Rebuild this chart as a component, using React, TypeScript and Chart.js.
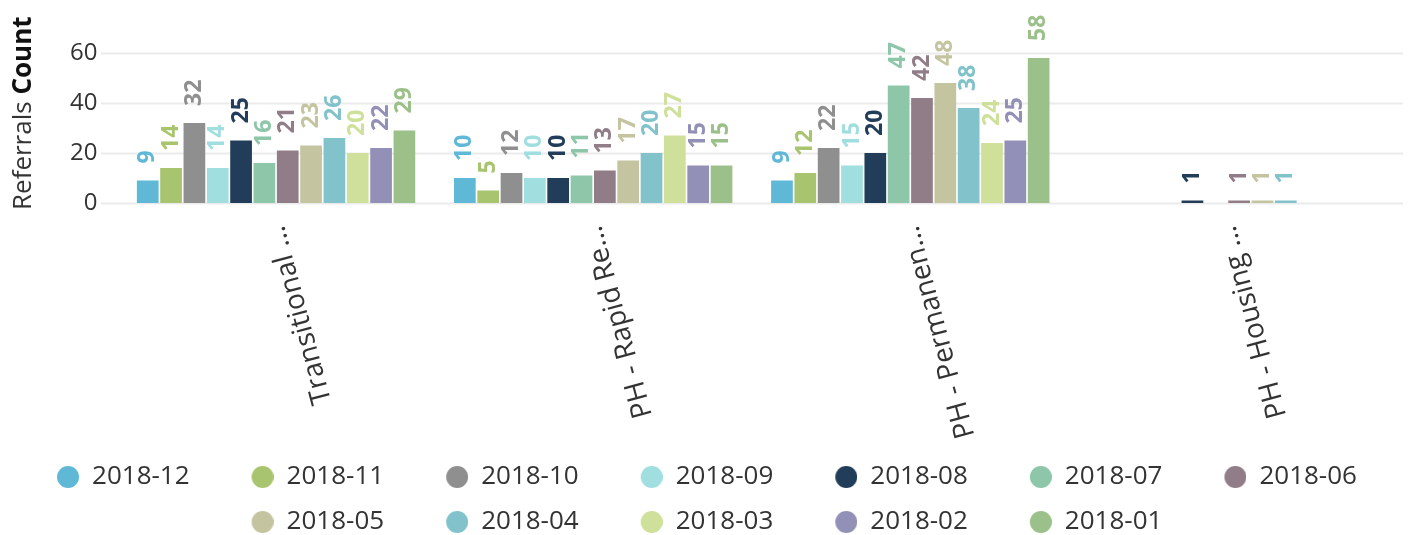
import React, { useEffect, useRef } from "react";
import { Chart, registerables } from "chart.js";

Chart.register(...registerables);

const categories = ["Transitional ...", "PH - Rapid Re...", "PH - Permanen...", "PH - Housing ..."];
const seriesNames = [
  "2018-12", "2018-11", "2018-10", "2018-09", "2018-08", "2018-07",
  "2018-06", "2018-05", "2018-04", "2018-03", "2018-02", "2018-01",
];
const seriesColors = [
  "#5fb8d6", "#a9c46f", "#8f8f8f", "#a0dee0", "#213d59", "#8dc6a8",
  "#917d88", "#c4c4a0", "#82c2ca", "#cfe09b", "#9290b6", "#9cc08a",
];
const s201812 = [9, 10, 9, null];
const s201811 = [14, 5, 12, null];
const s201810 = [32, 12, 22, null];
const s201809 = [14, 10, 15, null];
const s201808 = [25, 10, 20, 1];
const s201807 = [16, 11, 47, null];
const s201806 = [21, 13, 42, 1];
const s201805 = [23, 17, 48, 1];
const s201804 = [26, 20, 38, 1];
const s201803 = [20, 27, 24, null];
const s201802 = [22, 15, 25, null];
const s201801 = [29, 15, 58, null];
const seriesValues = [
  s201812, s201811, s201810, s201809, s201808, s201807,
  s201806, s201805, s201804, s201803, s201802, s201801,
];
const yTicks = [0, 20, 40, 60];
const yTitleNormal = "Referrals ";
const yTitleBold = "Count";

const FONT = "'Open Sans', sans-serif";
const LEGEND_FONT = 26;
const LEGEND_PAD = 19;
const MARKER_W = 65;

function markerCanvas(color: string) {
  const c = document.createElement("canvas");
  c.width = MARKER_W;
  c.height = 22;
  const ctx = c.getContext("2d")!;
  ctx.fillStyle = color;
  ctx.beginPath();
  ctx.arc(MARKER_W - 11, 11, 11, 0, Math.PI * 2);
  ctx.fill();
  return c;
}

const gridPlugin = {
  id: "customGrid",
  beforeDraw(chart: any) {
    const lg = chart.legend;
    if (lg && !lg.__shifted) {
      lg.left -= 21.5;
      lg.right -= 21.5;
      lg.__shifted = true;
    }
  },
  beforeDatasetsDraw(chart: any) {
    const y = chart.scales.y;
    const ctx = chart.ctx;
    ctx.save();
    ctx.strokeStyle = "#ebebeb";
    ctx.lineWidth = 2;
    yTicks.forEach((v) => {
      const py = Math.round(y.getPixelForValue(v)) + 0.5;
      ctx.beginPath();
      ctx.moveTo(101, py);
      ctx.lineTo(1403, py);
      ctx.stroke();
    });
    ctx.restore();
  },
};

const labelPlugin = {
  id: "barLabels",
  afterDatasetsDraw(chart: any) {
    const ctx = chart.ctx;
    ctx.save();
    ctx.font = `bold 23px ${FONT}`;
    ctx.textAlign = "left";
    ctx.textBaseline = "middle";
    chart.data.datasets.forEach((ds: any, di: number) => {
      const meta = chart.getDatasetMeta(di);
      meta.data.forEach((bar: any, i: number) => {
        const v = ds.data[i];
        if (v === null || v === undefined) return;
        ctx.save();
        ctx.translate(bar.x, bar.y - 17);
        ctx.rotate(-Math.PI / 2);
        ctx.fillStyle = seriesColors[di];
        ctx.fillText(String(v), 0, 0);
        ctx.restore();
      });
    });
    ctx.restore();
  },
};

const titlePlugin = {
  id: "yTitle",
  afterDraw(chart: any) {
    const ctx = chart.ctx;
    ctx.save();
    ctx.translate(24, 210);
    ctx.rotate(-Math.PI / 2);
    ctx.textAlign = "left";
    ctx.textBaseline = "middle";
    ctx.fillStyle = "#333333";
    ctx.font = `26px ${FONT}`;
    ctx.fillText(yTitleNormal, 0, 0);
    const w = ctx.measureText(yTitleNormal).width;
    ctx.font = `bold 26px ${FONT}`;
    ctx.fillStyle = "#111111";
    ctx.fillText(yTitleBold, w, 0);
    ctx.restore();
  },
};

export default function App() {
  const ref = useRef<HTMLCanvasElement>(null);
  useEffect(() => {
    const chart = new Chart(ref.current!, {
      type: "bar",
      data: {
        labels: categories,
        datasets: seriesNames.map((name, i) => ({
          label: name,
          data: seriesValues[i],
          backgroundColor: seriesColors[i],
          borderWidth: 0,
          categoryPercentage: 0.883,
          barPercentage: 0.93,
        })),
      },
      options: {
        animation: false,
        responsive: true,
        maintainAspectRatio: false,
        layout: { padding: { top: 53, left: 0, right: 0, bottom: 0 } },
        plugins: {
          tooltip: { enabled: false },
          legend: {
            position: "bottom",
            labels: {
              usePointStyle: true,
              pointStyleWidth: MARKER_W,
              padding: LEGEND_PAD,
              font: { family: FONT, size: LEGEND_FONT },
              color: "#333333",
              generateLabels: (chart: any) =>
                chart.data.datasets.map((ds: any, i: number) => ({
                  text: ds.label,
                  fillStyle: seriesColors[i],
                  strokeStyle: seriesColors[i],
                  lineWidth: 0,
                  pointStyle: markerCanvas(seriesColors[i]),
                  fontColor: "#333333",
                  hidden: false,
                  datasetIndex: i,
                })),
            },
          },
        },
        scales: {
          x: {
            grid: { display: false, drawTicks: false },
            border: { display: false },
            afterFit: (s: any) => {
              s.height = 242;
            },
            ticks: {
              minRotation: 105,
              maxRotation: 105,
              autoSkip: false,
              padding: 28,
              color: "#333333",
              font: { family: FONT, size: 28 },
            },
          },
          y: {
            min: 0,
            max: 60,
            grid: { display: false, drawTicks: false },
            border: { display: false },
            afterFit: (s: any) => {
              s.width = 117.5;
            },
            afterBuildTicks: (s: any) => {
              s.ticks = yTicks.map((v) => ({ value: v }));
            },
            ticks: {
              padding: 20,
              color: "#333333",
              font: { family: FONT, size: 24 },
            },
          },
          y2: {
            position: "right",
            display: true,
            grid: { display: false, drawTicks: false },
            border: { display: false },
            ticks: { display: false },
            afterFit: (s: any) => {
              s.width = 28;
            },
          },
        },
      },
      plugins: [gridPlugin, labelPlugin, titlePlugin],
    });
    return () => chart.destroy();
  }, []);
  return (
    <div style={{ position: "absolute", left: 0, top: 0, width: 1414, height: 545 }}>
      <canvas ref={ref} />
    </div>
  );
}
